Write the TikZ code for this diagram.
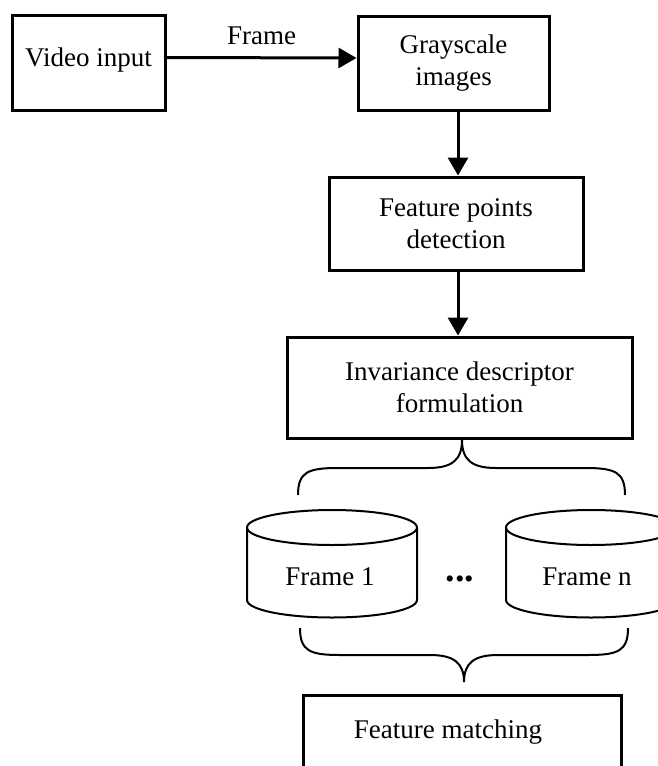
\documentclass[tikz,border=0pt]{standalone}
\usepackage{fontspec}
\setmainfont{Liberation Serif}
\usetikzlibrary{arrows.meta}
\begin{document}
\begin{tikzpicture}[x=0.5pt,y=-0.5pt, font=\fontsize{13.5}{16}\selectfont,
  box/.style={draw, line width=1.5pt, align=center, inner sep=0pt},
  arr/.style={line width=1.5pt, -{Triangle[length=9pt,width=10pt]}},
  thinline/.style={line width=1pt}]
\clip (0,0) rectangle (658,766);
\fill[white] (0,0) rectangle (658,766);
% boxes
\node[box, minimum width=76.5pt, minimum height=47.5pt, text depth=5pt] (vid) at (88.5,62.5) {Video input};
\node[box, minimum width=95.5pt, minimum height=47pt] (gray) at (453.5,63) {Grayscale\\images};
\node[box, minimum width=127pt, minimum height=46.5pt] (fpd) at (456,223.5) {Feature points\\detection};
\node[box, minimum width=172.5pt, minimum height=50.5pt] (inv) at (459.5,387.5) {Invariance descriptor\\formulation};
\node[box, minimum width=159pt, minimum height=60pt, anchor=north] (fm) at (462,694) {};
\node (fmt) at (448,732) {Feature matching};
% arrows
\draw[arr] ([yshift=2.5pt]vid.east) -- ([yshift=2.5pt]gray.west) node[midway, yshift=11pt] (lbl) {Frame};
\draw[arr] ([xshift=2.25pt]gray.south) -- ([xshift=2.25pt]gray.south |- fpd.north);
\draw[arr] ([xshift=1pt]fpd.south) -- ([xshift=1pt]fpd.south |- inv.north);
% cylinders
\draw[thinline] (332,527.5) ellipse [x radius=85, y radius=17.5];
\draw[thinline] (247,527.5) -- (247,600) arc[start angle=180, end angle=0, x radius=85, y radius=17.5] -- (417,527.5);
\node (f1) at (330,577) {Frame 1};
\draw[thinline] (591,527.5) ellipse [x radius=85, y radius=17.5];
\draw[thinline] (506,527.5) -- (506,600) arc[start angle=180, end angle=0, x radius=85, y radius=17.5] -- (676,527.5);
\node (fn) at (587,577) {Frame n};
\node[font=\fontsize{19}{20}\selectfont\bfseries] (dots) at (460,579) {...};
% top brace
\coordinate (tb) at (462,440);
\draw[thinline] (298,495) .. controls (298,472) and (308,468) .. (338,468) -- (428,468) .. controls (452,468) and (462,460) .. (tb);
\draw[thinline] (625,495) .. controls (625,472) and (615,468) .. (585,468) -- (496,468) .. controls (472,468) and (462,460) .. (tb);
% bottom brace
\coordinate (bb) at (464,682);
\draw[thinline] (300,628) .. controls (300,651) and (310,655) .. (340,655) -- (430,655) .. controls (454,655) and (464,663) .. (bb);
\draw[thinline] (628,628) .. controls (628,651) and (618,655) .. (588,655) -- (498,655) .. controls (474,655) and (464,663) .. (bb);
\end{tikzpicture}
\end{document}
